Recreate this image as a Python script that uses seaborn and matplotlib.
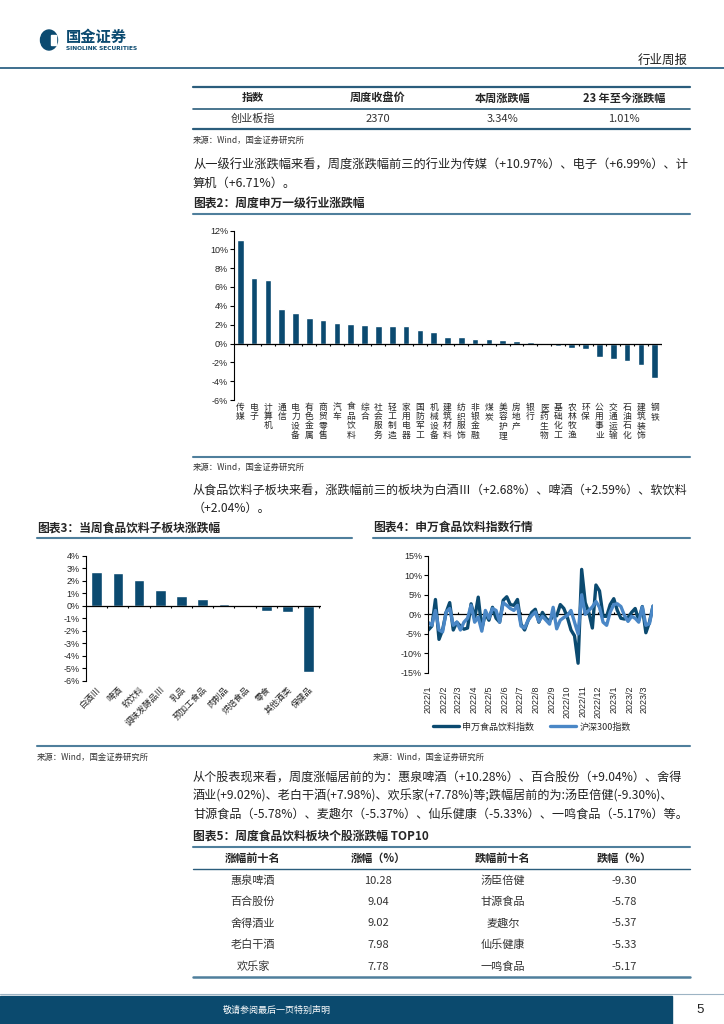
# 国金证券 行业周报 第5页 复刻
import numpy as np
import pandas as pd
import matplotlib
matplotlib.use("Agg")
import matplotlib.pyplot as plt
import seaborn as sns
from matplotlib.lines import Line2D
from matplotlib.patches import Rectangle, Ellipse

sns.set_theme(style="white")
plt.rcParams["font.family"] = ["Noto Sans CJK SC", "DejaVu Sans"]
plt.rcParams["axes.unicode_minus"] = False

W, H = 724, 1024
DARK = "#0b4a70"
LIGHT = "#4a87c6"
RULE = "#4f7f9c"
NUMFONT = ["Liberation Sans", "Noto Sans CJK SC"]

# ---- 数据 ----
top_header = ["指数", "周度收盘价", "本周涨跌幅", "23 年至今涨跌幅"]
top_row = ["创业板指", "2370", "3.34%", "1.01%"]

industries = ["传媒", "电子", "计算机", "通信", "电力设备", "有色金属", "商贸零售", "汽车",
              "食品饮料", "综合", "社会服务", "轻工制造", "家用电器", "国防军工", "机械设备",
              "建筑材料", "纺织服饰", "非银金融", "煤炭", "美容护理", "房地产", "银行",
              "医药生物", "基础化工", "农林牧渔", "环保", "公用事业", "交通运输", "石油石化",
              "建筑装饰", "钢铁"]
industry_chg = [10.97, 6.99, 6.71, 3.65, 3.19, 2.73, 2.48, 2.16, 2.06, 1.95, 1.86, 1.84,
                1.81, 1.45, 1.17, 0.67, 0.67, 0.43, 0.43, 0.32, 0.25, 0.14, -0.21, -0.25,
                -0.46, -0.60, -1.45, -1.67, -1.84, -2.27, -3.65]

subsectors = ["白酒Ⅲ", "啤酒", "软饮料", "调味发酵品Ⅲ", "乳品", "预加工食品", "肉制品",
              "烘焙食品", "零食", "其他酒类", "保健品"]
subsector_chg = [2.68, 2.59, 2.04, 1.23, 0.75, 0.51, 0.16, -0.08, -0.40, -0.53, -5.25]

weeks = pd.date_range("2022-01-01", periods=64, freq="7D")
food_idx = [-4.0, -3.0, 3.8, -6.4, -4.0, 0.5, 3.0, -4.0, -2.0, -3.0, -3.8, -3.5, 2.7, -1.0,
            4.4, -3.7, 0.2, -1.5, 1.8, -1.0, -2.0, 3.6, 4.5, 2.5, 2.3, 3.8, -2.5, -4.0,
            -1.5, 0.5, 1.3, -2.0, 0.5, -1.0, -1.8, -0.3, -0.4, 2.5, 1.5, -0.8, -4.0, -5.5,
            -12.5, 11.5, 3.0, 0.5, -3.5, 7.5, 6.0, -0.5, -0.5, 2.5, 4.0, 1.0, -1.0, -1.2,
            -0.8, 0.5, 1.5, -1.5, 2.0, -4.7, -2.0, 2.1]
hs300_idx = [-2.1, -2.8, 1.0, -4.0, -4.5, 0.6, 1.5, -2.8, -2.0, -4.0, -2.0, -1.0, 2.3, -2.0,
             -0.7, -4.3, 1.0, -1.0, 1.5, 1.0, -2.0, 3.0, 2.3, 1.5, 1.0, 2.3, -3.0, -3.5,
             -1.5, -0.3, 0.6, -1.8, -0.5, -1.5, -2.5, 1.8, -3.7, -1.5, -0.8, -0.3, 1.0, -2.0,
             -5.0, 5.0, 0.0, 1.0, 1.9, 3.3, 1.8, -2.0, -2.8, 0.6, 2.5, 2.7, 2.0, -0.3,
             -1.8, -0.5, -1.0, -2.0, 1.9, -2.8, -2.4, 2.1]

stock_header = ["涨幅前十名", "涨幅（%）", "跌幅前十名", "跌幅（%）"]
gainers = ["惠泉啤酒", "百合股份", "舍得酒业", "老白干酒", "欢乐家"]
gain_pct = ["10.28", "9.04", "9.02", "7.98", "7.78"]
losers = ["汤臣倍健", "甘源食品", "麦趣尔", "仙乐健康", "一鸣食品"]
loss_pct = ["-9.30", "-5.78", "-5.37", "-5.33", "-5.17"]

para1 = ["从一级行业涨跌幅来看，周度涨跌幅前三的行业为传媒（+10.97%）、电子（+6.99%）、计",
         "算机（+6.71%）。"]
para2 = ["从食品饮料子板块来看，涨跌幅前三的板块为白酒Ⅲ（+2.68%）、啤酒（+2.59%）、软饮料",
         "（+2.04%）。"]
para3 = ["从个股表现来看，周度涨幅居前的为：惠泉啤酒（+10.28%）、百合股份（+9.04%）、舍得",
         "酒业(+9.02%)、老白干酒(+7.98%)、欢乐家(+7.78%)等;跌幅居前的为:汤臣倍健(-9.30%)、",
         "甘源食品（-5.78%）、麦趣尔（-5.37%）、仙乐健康（-5.33%）、一鸣食品（-5.17%）等。"]
source = "来源：Wind，国金证券研究所"

fig = plt.figure(figsize=(7.24, 10.24), dpi=100)


def fx(x):
    return x / W


def fy(y):
    return 1 - y / H


def txt(x, y, s, size=9, ha="left", va="center", **kw):
    fig.text(fx(x), fy(y), s, fontsize=size, ha=ha, va=va, **kw)


def hline(x0, x1, y, color=RULE, lw=1.5):
    fig.add_artist(Line2D([fx(x0), fx(x1)], [fy(y), fy(y)], color=color, lw=lw,
                          transform=fig.transFigure))


def box(x0, y0, x1, y1):
    return [fx(x0), fy(y1), fx(x1) - fx(x0), fy(y0) - fy(y1)]


def style_axes(ax):
    for s in ["top", "right", "bottom"]:
        ax.spines[s].set_visible(False)
    ax.spines["left"].set_color("black")
    ax.spines["left"].set_linewidth(0.8)
    ax.tick_params(axis="y", left=True, length=3, width=0.8, color="black",
                   labelsize=6.5, pad=1.5)
    for lbl in ax.get_yticklabels():
        lbl.set_fontfamily(NUMFONT)
    ax.set_xlabel("")
    ax.set_ylabel("")
    ax.set_facecolor("none")


# ---- 页眉 ----
fig.add_artist(Ellipse((fx(49), fy(40)), fx(17), 20 / H, color=DARK, transform=fig.transFigure))
fig.add_artist(Rectangle((fx(51), fy(45)), fx(5), 10 / H, color="white", transform=fig.transFigure))
txt(66, 37, "国金证券", size=11, weight="bold", color=DARK)
txt(66, 48, "SINOLINK SECURITIES", size=4.2, weight="bold", color=DARK, family="DejaVu Sans")
txt(688, 60, "行业周报", size=9, ha="right", color="#222222")
hline(0, 724, 67.5, color="#3e6f8e", lw=1.4)

# ---- 顶部表格 ----
cols = [253, 378, 503, 624]
hline(193, 690, 87, color="#2b5d7c", lw=1.6)
for c, s in zip(cols, top_header):
    txt(c, 98, s, size=8, ha="center", weight="bold")
hline(193, 690, 108.5, color="#2b5d7c", lw=1.2)
for c, s in zip(cols, top_row):
    txt(c, 118.5, s, size=8, ha="center", color="#333333")
hline(193, 690, 129, color="#2b5d7c", lw=1.6)
txt(193, 140, source, size=6, color="#333333")

for i, s in enumerate(para1):
    txt(193, 165 + 18 * i, s, size=8.8, color="#222222")

txt(193, 204, "图表2：周度申万一级行业涨跌幅", size=8.5, weight="bold", style="italic")
hline(193, 690, 213.5)

# ---- 图表2 ----
ax2 = fig.add_axes(box(234.3, 230.5, 662, 400))
df2 = pd.DataFrame({"行业": industries, "涨跌幅": industry_chg})
sns.barplot(data=df2, x="行业", y="涨跌幅", color=DARK, saturation=1, width=0.48, ax=ax2)
n2 = len(industries)
ax2.set_xlim(-0.43, n2 - 0.47)
ax2.set_ylim(-6, 12)
ax2.set_yticks(range(-6, 13, 2))
ax2.set_yticklabels([f"{v}%" for v in range(-6, 13, 2)])
ax2.axhline(0, color="black", lw=0.9)
ax2.vlines(np.arange(n2) + 0.5, -0.25, 0, color="black", lw=0.8)
ax2.set_xticks(range(n2))
ax2.set_xticklabels(["\n".join(s) for s in industries], fontsize=6.3, linespacing=1.05, va="top")
ax2.tick_params(axis="x", length=0, pad=2)
style_axes(ax2)

hline(193, 690, 457)
txt(193, 467, source, size=6, color="#333333")
for i, s in enumerate(para2):
    txt(193, 490 + 18 * i, s, size=8.7, color="#222222")

# ---- 图表3 ----
txt(37, 528, "图表3：当周食品饮料子板块涨跌幅", size=8.5, weight="bold", style="italic")
hline(37, 352, 538)
ax3 = fig.add_axes(box(86, 555.5, 321, 681))
df3 = pd.DataFrame({"子板块": subsectors, "涨跌幅": subsector_chg})
sns.barplot(data=df3, x="子板块", y="涨跌幅", color=DARK, saturation=1, width=0.5, ax=ax3)
n3 = len(subsectors)
ax3.set_xlim(-0.5, n3 - 0.42)
ax3.set_ylim(-6, 4)
ax3.set_yticks(range(-6, 5))
ax3.set_yticklabels([f"{v}%" for v in range(-6, 5)])
ax3.axhline(0, color="black", lw=0.9)
ax3.vlines(np.arange(n3) + 0.5, -0.15, 0, color="black", lw=0.8)
ax3.set_xticks(range(n3))
ax3.set_xticklabels(subsectors, fontsize=6.2, rotation=45, ha="right", rotation_mode="anchor")
ax3.tick_params(axis="x", length=0, pad=3)
style_axes(ax3)

# ---- 图表4 ----
txt(373, 528, "图表4：申万食品饮料指数行情", size=8.5, weight="bold", style="italic")
hline(373, 690, 538)
ax4 = fig.add_axes(box(428.3, 555.7, 653, 673))
sns.lineplot(x=weeks, y=food_idx, color=DARK, lw=2.4, ax=ax4, label="申万食品饮料指数")
sns.lineplot(x=weeks, y=hs300_idx, color=LIGHT, lw=2.4, ax=ax4, label="沪深300指数")
ax4.set_xlim(weeks[0], weeks[-1])
ax4.set_ylim(-15, 15)
ax4.set_yticks(range(-15, 16, 5))
ax4.set_yticklabels([f"{v}%" for v in range(-15, 16, 5)])
ax4.axhline(0, color="black", lw=0.9, zorder=1)
months = pd.date_range("2022-01-01", "2023-03-01", freq="MS")
ax4.vlines(months, 0, 0.5, color="black", lw=0.8, zorder=1)
ax4.set_xticks(months)
ax4.set_xticklabels([f"{d.year}/{d.month}" for d in months], rotation=90, fontsize=6.5,
                    family=NUMFONT)
ax4.tick_params(axis="x", length=0, pad=9)
style_axes(ax4)
ax4.legend(loc="center", bbox_to_anchor=(fx(532), fy(727)), bbox_transform=fig.transFigure,
           ncol=2, frameon=False, fontsize=6.5, handlelength=2.8, columnspacing=1.8,
           handletextpad=0.4)

hline(37, 690, 746)
txt(37, 757, source, size=6, color="#333333")
txt(373, 757, source, size=6, color="#333333")

for i, s in enumerate(para3):
    txt(193, 777 + 18.5 * i, s, size=8.7, color="#222222")

# ---- 图表5 表格 ----
txt(193, 836, "图表5：周度食品饮料板块个股涨跌幅 TOP10", size=8.5, weight="bold", style="italic")
hline(193, 690, 846.5)
for c, s in zip(cols, stock_header):
    txt(c, 858, s, size=8, ha="center", weight="bold")
hline(193, 690, 869, color="#2b5d7c", lw=1.0)
for i in range(len(gainers)):
    y = 880.5 + 21.5 * i
    for c, s in zip(cols, [gainers[i], gain_pct[i], losers[i], loss_pct[i]]):
        txt(c, y, s, size=8, ha="center", color="#333333")
hline(193, 690, 977, color=RULE, lw=1.8)

# ---- 页脚 ----
hline(0, 724, 994, color="#9db4c4", lw=0.8)
fig.add_artist(Rectangle((0, 0), fx(672), 28 / H, color="#0b4a6e", transform=fig.transFigure))
txt(277, 1010, "敬请参阅最后一页特别声明", size=6.5, ha="center", color="white")
txt(700, 1010, "5", size=9.5, ha="center", color="#222222", family=NUMFONT)

fig.savefig("out.png", dpi=100)
